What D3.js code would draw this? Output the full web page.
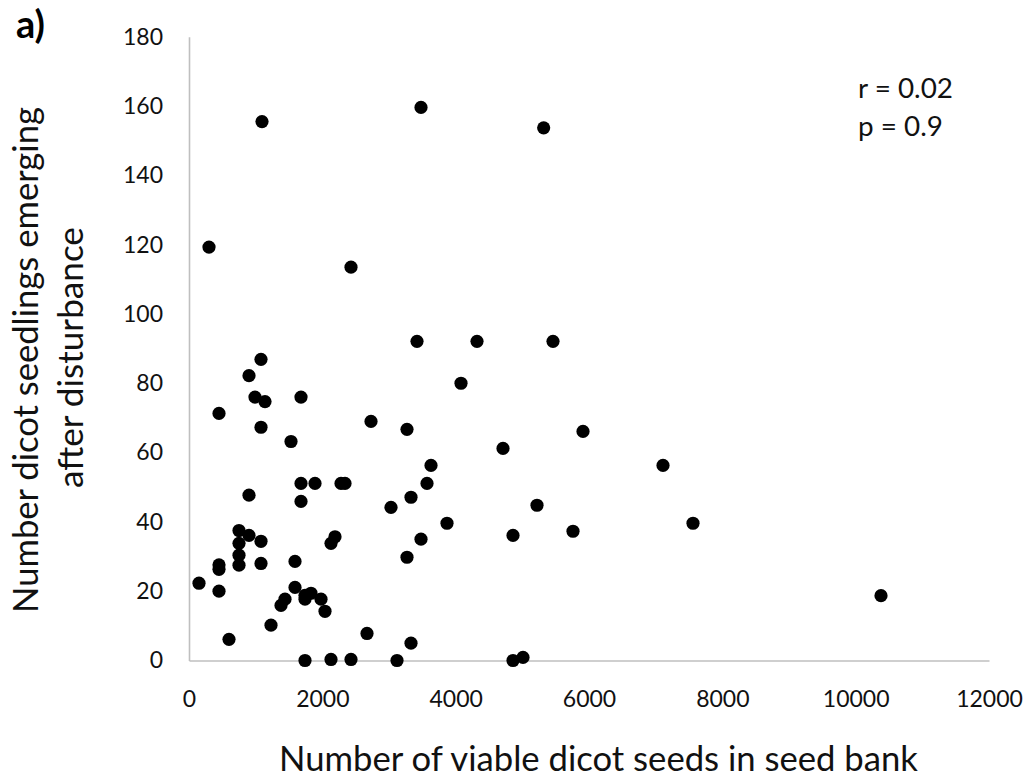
<!DOCTYPE html>
<html>
<head>
<meta charset="utf-8">
<script src="https://d3js.org/d3.v7.min.js"></script>
<style>
  body { margin: 0; background: #fff; }
  svg { font-family: Lato, "Open Sans", sans-serif; }
</style>
</head>
<body>
<div class="chart"></div>
<script>
// seed bank size (x) and seedlings emerging (y)
var seedBank = [
  1095, 300, 3480, 5320, 2430, 3420, 4320, 5460, 1080, 900,
  4080, 990, 1140, 1680, 450, 1080, 2730, 3270, 1530, 5910,
  4710, 3630, 7110, 3570, 3330, 5220, 3870, 7560, 3480, 4860,
  5760, 3270, 3330, 4860, 5010, 1680, 1890, 2280, 2340, 1680,
  900, 3030, 2190, 2130, 750, 900, 1080, 750, 750, 750,
  450, 450, 1080, 1590, 150, 450, 1590, 1740, 1830, 1740,
  1980, 1440, 1380, 2040, 1230, 600, 2670, 1740, 2130, 2430,
  3120, 10380
];
var seedlings = [
  155.5, 119.3, 159.6, 153.7, 113.5, 92.1, 92.1, 92.1, 86.9, 82.2,
  80.0, 76.0, 74.7, 76.0, 71.3, 67.3, 69.0, 66.7, 63.2, 66.1,
  61.2, 56.3, 56.3, 51.1, 47.1, 44.8, 39.6, 39.6, 35.0, 36.1,
  37.3, 29.8, 5.0, 0, 0.9, 51.1, 51.1, 51.1, 51.1, 45.9,
  47.7, 44.2, 35.7, 33.8, 37.5, 36.1, 34.4, 33.8, 30.4, 27.5,
  27.6, 26.3, 28.0, 28.6, 22.3, 20.0, 21.1, 18.8, 19.4, 17.7,
  17.7, 17.7, 15.9, 14.2, 10.2, 6.1, 7.8, 0, 0.3, 0.3,
  0, 18.7
];
var xTicks = [0, 2000, 4000, 6000, 8000, 10000, 12000];
var yTicks = [0, 20, 40, 60, 80, 100, 120, 140, 160, 180];

var svgWidth = 1032, svgHeight = 779;
var margin = { top: 36.7, right: 43, bottom: 118.5, left: 189 };
var width = svgWidth - margin.left - margin.right;
var height = svgHeight - margin.top - margin.bottom;

var svg = d3.select(".chart").append("svg")
  .attr("width", svgWidth)
  .attr("height", svgHeight);

var chartGroup = svg.append("g")
  .attr("transform", `translate(${margin.left}, ${margin.top})`);

var xScale = d3.scaleLinear().domain([0, 12000]).range([0, width]);
var yScale = d3.scaleLinear().domain([0, 180]).range([height, 0]);

var xAxis = d3.axisBottom(xScale).tickValues(xTicks).tickFormat(d3.format("d"))
  .tickSize(0).tickSizeOuter(0).tickPadding(30);
var yAxis = d3.axisLeft(yScale).tickValues(yTicks).tickFormat(d3.format("d"))
  .tickSize(0).tickSizeOuter(0).tickPadding(26);

var gx = chartGroup.append("g")
  .attr("transform", `translate(0, ${height})`)
  .call(xAxis);
var gy = chartGroup.append("g").call(yAxis);

[gx, gy].forEach(function(g) {
  g.select(".domain").attr("stroke", "#bfbfbf").attr("stroke-width", 1.6);
  g.selectAll("text").attr("font-family", "Lato, sans-serif")
    .attr("font-size", 23).attr("fill", "#111");
});

// points
var points = seedBank.map(function(d, i) { return { x: d, y: seedlings[i] }; });
chartGroup.selectAll("circle")
  .data(points)
  .enter()
  .append("circle")
  .attr("cx", d => xScale(d.x))
  .attr("cy", d => yScale(d.y))
  .attr("r", 6.6)
  .style("fill", "#000");

// stretch a label's font size so it spans the wanted width
function fitWidth(sel, target) {
  var fs = +sel.attr("font-size");
  var w = sel.node().getComputedTextLength();
  sel.attr("font-size", fs * target / w);
}

var xTitle = svg.append("text")
  .attr("x", 598.5)
  .attr("y", 771)
  .attr("text-anchor", "middle")
  .attr("font-size", 30)
  .attr("fill", "#111")
  .text("Number of viable dicot seeds in seed bank");
fitWidth(xTitle, 639);

var yTitle1 = svg.append("text")
  .attr("transform", "translate(38, 360) rotate(-90)")
  .attr("text-anchor", "middle")
  .attr("font-size", 30)
  .attr("fill", "#111")
  .text("Number dicot seedlings emerging");
fitWidth(yTitle1, 506);

var yTitle2 = svg.append("text")
  .attr("transform", "translate(83, 357.5) rotate(-90)")
  .attr("text-anchor", "middle")
  .attr("font-size", 30)
  .attr("fill", "#111")
  .text("after disturbance");
fitWidth(yTitle2, 261);

var panel = svg.append("text")
  .attr("x", 16)
  .attr("y", 38)
  .attr("font-size", 30)
  .attr("font-weight", "bold")
  .attr("fill", "#000")
  .text("a)");
fitWidth(panel, 29);

var rText = svg.append("text")
  .attr("x", 858)
  .attr("y", 98)
  .attr("font-size", 26)
  .attr("fill", "#111")
  .text("r = 0.02");
fitWidth(rText, 95);

var pText = svg.append("text")
  .attr("x", 858)
  .attr("y", 136)
  .attr("font-size", rText.attr("font-size"))
  .attr("fill", "#111")
  .text("p = 0.9");
</script>
</body>
</html>
